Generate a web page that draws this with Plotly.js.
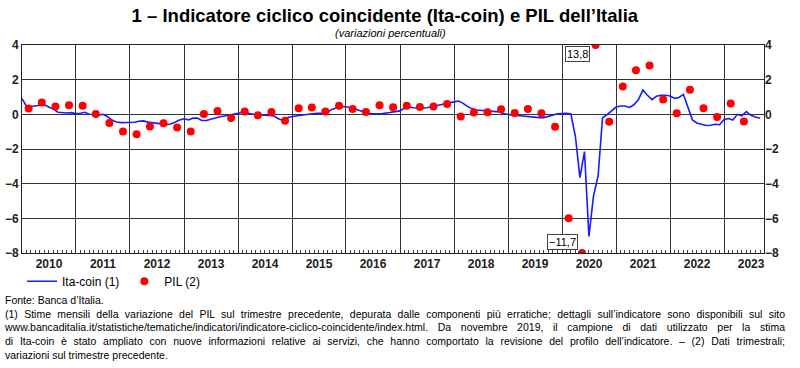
<!DOCTYPE html>
<html><head><meta charset="utf-8">
<script src="https://cdn.plot.ly/plotly-3.0.1.min.js"></script>
<style>
html,body{margin:0;padding:0;background:#fff;}
#chart{width:800px;height:368px;position:absolute;left:0;top:0;}
#notes{position:absolute;left:5px;top:294px;width:780px;font-family:"Liberation Sans",Arial,sans-serif;font-size:10.5px;line-height:13.7px;color:#000;z-index:5;}
#notes .j{text-align:justify;text-align-last:justify;}
</style></head>
<body>
<div id="chart"></div>
<div id="notes">
<div>Fonte: Banca d’Italia.</div>
<div class="j">(1) Stime mensili della variazione del PIL sul trimestre precedente, depurata dalle componenti più erratiche; dettagli sull’indicatore sono disponibili sul sito</div>
<div class="j">www.bancaditalia.it/statistiche/tematiche/indicatori/indicatore-ciclico-coincidente/index.html. Da novembre 2019, il campione di dati utilizzato per la stima</div>
<div class="j">di Ita-coin è stato ampliato con nuove informazioni relative ai servizi, che hanno comportato la revisione del profilo dell’indicatore. – (2) Dati trimestrali;</div>
<div>variazioni sul trimestre precedente.</div>
</div>
<script>
// Ita-coin, monthly, from January 2010
const itaCoinStart = [2010, 1];
const itaCoin = [
  0.9, 0.45, 0.45, 0.48, 0.55, 0.55, 0.42, 0.3, 0.12, 0.08, 0.08, 0.1,
  0.04, 0.06, 0.12, 0.0, -0.04, -0.04, 0.0, -0.12, -0.32, -0.44, -0.48, -0.48,
  -0.48, -0.46, -0.4, -0.38, -0.45, -0.47, -0.5, -0.55, -0.6, -0.56, -0.46, -0.33,
  -0.26, -0.32, -0.22, -0.22, -0.36, -0.36, -0.28, -0.2, -0.14, -0.1, -0.05, -0.02,
  0.06, 0.13, 0.08, 0.04, -0.02, -0.04, -0.04, -0.06, -0.1, -0.25, -0.35, -0.2,
  -0.12, -0.08, -0.04, 0.0, 0.02, 0.05, 0.06, 0.06, 0.15, 0.3, 0.38, 0.45,
  0.44, 0.4, 0.32, 0.22, 0.12, 0.06, 0.03, 0.03, 0.04, 0.08, 0.12, 0.17,
  0.2, 0.38, 0.44, 0.38, 0.35, 0.36, 0.38, 0.42, 0.5, 0.55, 0.62, 0.68,
  0.72, 0.77, 0.65, 0.46, 0.33, 0.25, 0.23, 0.22, 0.21, 0.18, 0.14, 0.05,
  -0.02, -0.05, -0.07, -0.1, -0.13, -0.16, -0.19, -0.19, -0.19, -0.12, -0.05, 0.03,
  0.05, 0.06, 0.02, -1.3, -3.65, -2.15, -7.05, -4.7, -3.55, -0.2, -0.02, 0.2,
  0.42, 0.48, 0.48, 0.4, 0.55, 0.85, 1.4, 1.1, 0.85, 1.05, 1.1, 1.1,
  1.06, 0.92, 0.97, 1.15, 0.45, -0.32, -0.5, -0.58, -0.64, -0.63, -0.57, -0.6,
  -0.3, -0.24, -0.33, 0.0, -0.09, 0.16, -0.06, -0.15, -0.22
];
// PIL, quarterly q/q % change, from 2010 Q1
const pilStart = [2010, 1];
const pil = [
  0.33, 0.68, 0.45, 0.52,
  0.50, 0.02, -0.50, -0.99,
  -1.15, -0.70, -0.52, -0.76,
  -0.99, 0.02, 0.19, -0.21,
  0.16, -0.06, 0.13, -0.37,
  0.35, 0.39, 0.16, 0.50,
  0.31, 0.14, 0.52, 0.41,
  0.50, 0.43, 0.45, 0.60,
  -0.12, 0.10, 0.12, 0.29,
  0.08, 0.31, 0.06, -0.72,
  -6.0, -11.7, 13.8, -0.43,
  1.61, 2.54, 2.82, 0.85,
  0.06, 1.42, 0.35, -0.16,
  0.62, -0.41
];
const yTicks = [-8, -6, -4, -2, 0, 2, 4];
const xRange = ['2010-01-01', '2023-09-28'];
const seriesNames = ['Ita-coin (1)', 'PIL (2)'];

const pad = n => String(n).padStart(2, '0');
const monthDates = itaCoin.map((_, i) => {
  const t = (itaCoinStart[0] * 12 + itaCoinStart[1] - 1) + i;
  return Math.floor(t / 12) + '-' + pad(t % 12 + 1) + '-01';
});
const quarterDates = pil.map((_, i) => {
  const q = (pilStart[1] - 1) + i;
  const y = pilStart[0] + Math.floor(q / 4);
  const m = (q % 4) * 3 + 2;
  return y + '-' + pad(m) + '-15';
});
const yMin = Math.min(...yTicks), yMax = Math.max(...yTicks);
const pilShown = pil.map(v => Math.max(yMin, Math.min(yMax, v)));
const fmt = v => (v < 0 ? '\u2212' : '') + Math.abs(v).toFixed(1).replace('.', ',');

const annotations = [{
  text: '(variazioni percentuali)', xref: 'paper', yref: 'paper', x: 0.496, y: 1.058,
  xanchor: 'center', yanchor: 'middle', showarrow: false,
  font: {family: 'Liberation Sans, Arial, sans-serif', size: 11, style: 'italic', color: '#000'}
}];
pil.forEach((v, i) => {
  if (v > yMax || v < yMin) {
    annotations.push({
      text: fmt(v), xref: 'x', yref: 'y', x: quarterDates[i], y: pilShown[i],
      xanchor: 'right', yanchor: v > yMax ? 'top' : 'bottom',
      xshift: v > yMax ? -6 : -4, yshift: v > yMax ? -1 : 3,
      showarrow: false, bgcolor: '#fff', bordercolor: '#444', borderwidth: 1, borderpad: 1,
      font: {family: 'Liberation Sans, Arial, sans-serif', size: 11, color: '#000'}
    });
  }
});

const tickFont = {family: 'Liberation Sans, Arial, sans-serif', size: 12, weight: 'bold', color: '#222'};
const data = [
  {x: monthDates, y: itaCoin, type: 'scatter', mode: 'lines', name: seriesNames[0],
   line: {color: '#1a1aff', width: 1.6}},
  {x: quarterDates, y: pilShown, type: 'scatter', mode: 'markers', name: seriesNames[1],
   marker: {color: '#ff0000', size: 8}, yaxis: 'y2', cliponaxis: true}
];
const layout = {
  width: 800, height: 368,
  margin: {l: 22, r: 36, t: 45, b: 115},
  paper_bgcolor: '#fff', plot_bgcolor: '#fff',
  title: {text: '1 – Indicatore ciclico coincidente (Ita-coin) e PIL dell’Italia',
    xref: 'paper', x: 0.489, xanchor: 'center', yref: 'container', y: 0.958, yanchor: 'middle',
    font: {family: 'Liberation Sans Narrow, Arial Narrow, Liberation Sans, sans-serif', size: 18.5, weight: 'bold', color: '#000'}},
  showlegend: true,
  legend: {orientation: 'h', x: 0, xanchor: 'left', y: -0.066, yanchor: 'top',
    font: {family: 'Liberation Sans, Arial, sans-serif', size: 12, color: '#000'},
    itemwidth: 30, bgcolor: 'rgba(0,0,0,0)'},
  xaxis: {type: 'date', range: xRange, dtick: 'M12', tick0: '2010-01-01', tickformat: '%Y',
    ticklabelmode: 'period', showgrid: true, gridcolor: '#333', gridwidth: 1,
    showline: true, mirror: true, linecolor: '#222', linewidth: 1, ticks: '',
    tickfont: tickFont, zeroline: false,
    minor: {dtick: 'M1', ticks: 'inside', ticklen: 3, tickcolor: '#444', showgrid: false}},
  yaxis: {range: [yMin, yMax], tickvals: yTicks, showgrid: true, gridcolor: '#333', gridwidth: 1,
    zeroline: false, showline: true, mirror: true, linecolor: '#222', ticks: '',
    tickfont: tickFont, fixedrange: true},
  yaxis2: {range: [yMin, yMax], tickvals: yTicks, overlaying: 'y', side: 'right', showgrid: false,
    zeroline: false, showline: false, ticks: '', tickfont: tickFont, fixedrange: true},
  annotations: annotations
};
Plotly.newPlot('chart', data, layout, {staticPlot: true, displayModeBar: false});
</script>
</body></html>
